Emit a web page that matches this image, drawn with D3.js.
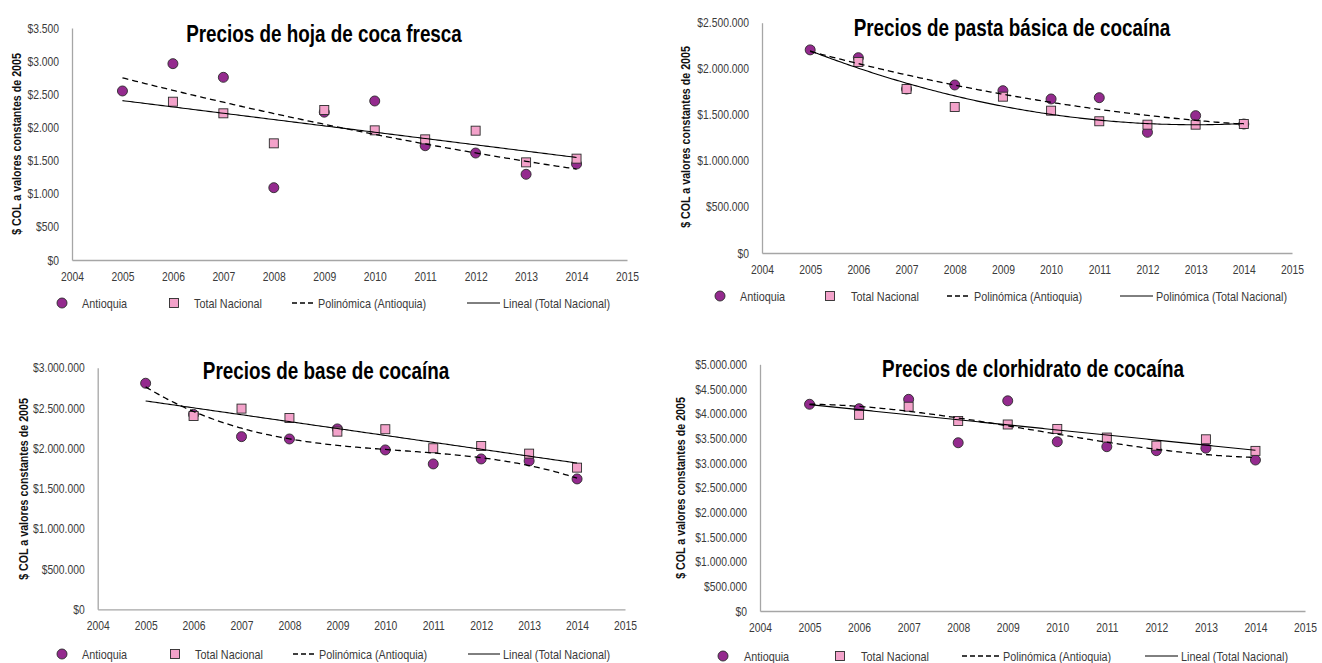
<!DOCTYPE html>
<html><head><meta charset="utf-8">
<script src="https://cdn.jsdelivr.net/npm/d3@7"></script>
<style>body{margin:0;background:#fff}svg{display:block}</style>
</head><body>
<svg id="c" width="1322" height="663"></svg>
<script>
// ---------- DATA ----------
const years = [2005, 2006, 2007, 2008, 2009, 2010, 2011, 2012, 2013, 2014];
const xTickYears = [2004, 2005, 2006, 2007, 2008, 2009, 2010, 2011, 2012, 2013, 2014, 2015];

const hojaAntioquia = [2550, 2962, 2756, 1091, 2230, 2399, 1724, 1614, 1293, 1448];
const hojaNacional  = [null, 2388, 2213, 1760, 2263, 1956, 1820, 1951, 1473, 1529];

const pastaAntioquia = [2205000, 2120000, 1780000, 1824000, 1762000, 1672000, 1686000, 1310000, 1491000, 1400000];
const pastaNacional  = [null, 2074000, 1781000, 1585000, 1697000, 1545000, 1430000, 1393000, 1393000, 1400000];

const baseAntioquia = [2807000, 2420000, 2144000, 2115000, 2240000, 1979000, 1805000, 1867000, 1842000, 1619000];
const baseNacional  = [null, 2400000, 2492000, 2376000, 2206000, 2236000, 2000000, 2028000, 1933000, 1759000];

const clorAntioquia = [4190000, 4100000, 4290000, 3410000, 4260000, 3430000, 3330000, 3250000, 3300000, 3060000];
const clorNacional  = [null, 3976000, 4140000, 3850000, 3780000, 3690000, 3515000, 3350000, 3480000, 3245000];

const hojaTicks  = [0, 500, 1000, 1500, 2000, 2500, 3000, 3500];
const pastaTicks = [0, 500000, 1000000, 1500000, 2000000, 2500000];
const baseTicks  = [0, 500000, 1000000, 1500000, 2000000, 2500000, 3000000];
const clorTicks  = [0, 500000, 1000000, 1500000, 2000000, 2500000, 3000000, 3500000, 4000000, 4500000, 5000000];

const titles = ["Precios de hoja de coca fresca", "Precios de pasta básica de cocaína",
                "Precios de base de cocaína", "Precios de clorhidrato de cocaína"];
const yAxisTitle = "$ COL a valores constantes de 2005";
const legendAnt = "Antioquia", legendNac = "Total Nacional", legendPolyAnt = "Polinómica (Antioquia)";
const nacTrendLabels = ["Lineal (Total Nacional)", "Polinómica (Total Nacional)", "Lineal (Total Nacional)", "Lineal (Total Nacional)"];
const antTrendDegree = [2, 2, 3, 3];
const nacTrendDegree = [1, 2, 1, 1];
const trendRange = [2005, 2014];

// ---------- LAYOUT ----------
const panels = [
  {ant: hojaAntioquia, nac: hojaNacional, ticks: hojaTicks,
   box: {l: 72, r: 627, t: 28, b: 260}, titleX: 324, titleY: 42, ytX: 16, ytY: 144,
   leg: {y: 303, c: 62, ct: 82, s: 174, st: 194, d1: 292, d2: 316, dt: 318, l1: 467, l2: 500, lt: 503}},
  {ant: pastaAntioquia, nac: pastaNacional, ticks: pastaTicks,
   box: {l: 762, r: 1292, t: 22.7, b: 253}, titleX: 1012, titleY: 36, ytX: 685, ytY: 137,
   leg: {y: 296, c: 720, ct: 740, s: 830, st: 851, d1: 947, d2: 971, dt: 974, l1: 1120, l2: 1153, lt: 1156}},
  {ant: baseAntioquia, nac: baseNacional, ticks: baseTicks,
   box: {l: 97.7, r: 625, t: 367.7, b: 609.3}, titleX: 326, titleY: 379, ytX: 23, ytY: 489,
   leg: {y: 654, c: 62, ct: 82, s: 175, st: 195, d1: 293, d2: 317, dt: 319, l1: 468, l2: 500, lt: 503}},
  {ant: clorAntioquia, nac: clorNacional, ticks: clorTicks,
   box: {l: 760, r: 1305, t: 364.3, b: 611}, titleX: 1033, titleY: 377, ytX: 680, ytY: 488,
   leg: {y: 656, c: 723, ct: 744, s: 840, st: 861, d1: 962, d2: 1000, dt: 1003, l1: 1145, l2: 1178, lt: 1181}}
];

const FONT = "'Liberation Sans Narrow', 'Arial Narrow', 'Liberation Sans', Arial, sans-serif";
const PURPLE = "#942a8e", PINK = "#f3a2ca", STROKE = "#2b2b2b", AXIS = "#a6a6a6", TXT = "#3a3a3a";

const locale = d3.formatLocale({decimal: ",", thousands: ".", grouping: [3], currency: ["$", ""]});
const fmt = locale.format("$,");

function polyfit(xs, ys, deg) {
  const pts = xs.map((x, i) => [x - 2009.5, ys[i]]).filter(p => p[1] != null);
  const n = deg + 1;
  const A = Array.from({length: n}, () => new Array(n + 1).fill(0));
  pts.forEach(([x, y]) => {
    for (let i = 0; i < n; i++) {
      for (let j = 0; j < n; j++) A[i][j] += Math.pow(x, i + j);
      A[i][n] += y * Math.pow(x, i);
    }
  });
  for (let i = 0; i < n; i++) {
    let p = i;
    for (let k = i + 1; k < n; k++) if (Math.abs(A[k][i]) > Math.abs(A[p][i])) p = k;
    [A[i], A[p]] = [A[p], A[i]];
    for (let k = i + 1; k < n; k++) {
      const f = A[k][i] / A[i][i];
      for (let j = i; j <= n; j++) A[k][j] -= f * A[i][j];
    }
  }
  const c = new Array(n).fill(0);
  for (let i = n - 1; i >= 0; i--) {
    let s = A[i][n];
    for (let j = i + 1; j < n; j++) s -= A[i][j] * c[j];
    c[i] = s / A[i][i];
  }
  return x => c.reduce((acc, ci, i) => acc + ci * Math.pow(x - 2009.5, i), 0);
}

const svg = d3.select("#c");

panels.forEach((p, pi) => {
  const g = svg.append("g");
  const x = d3.scaleLinear().domain([2004, 2015]).range([p.box.l, p.box.r]);
  const y = d3.scaleLinear().domain([0, d3.max(p.ticks)]).range([p.box.b, p.box.t]);

  const ya = g.append("g").attr("transform", `translate(${p.box.l},0)`)
    .call(d3.axisLeft(y).tickValues(p.ticks).tickSize(0).tickPadding(13).tickFormat(fmt));
  const xa = g.append("g").attr("transform", `translate(0,${p.box.b})`)
    .call(d3.axisBottom(x).tickValues(xTickYears).tickSize(0).tickPadding(12).tickFormat(d3.format("d")));
  [ya, xa].forEach(a => {
    a.select(".domain").attr("stroke", AXIS).attr("stroke-width", 1.3);
    a.selectAll("text").attr("font-family", FONT).attr("font-size", 12.6).attr("fill", TXT);
  });

  g.selectAll(".ant").data(years.map((yr, i) => [yr, p.ant[i]]).filter(d => d[1] != null))
    .enter().append("circle").attr("cx", d => x(d[0])).attr("cy", d => y(d[1])).attr("r", 5)
    .attr("fill", PURPLE).attr("stroke", STROKE).attr("stroke-width", 0.9);
  g.selectAll(".nac").data(years.map((yr, i) => [yr, p.nac[i]]).filter(d => d[1] != null))
    .enter().append("rect").attr("x", d => x(d[0]) - 4.5).attr("y", d => y(d[1]) - 4.5)
    .attr("width", 9).attr("height", 9)
    .attr("fill", PINK).attr("stroke", STROKE).attr("stroke-width", 0.9);

  const samples = d3.range(trendRange[0], trendRange[1] + 0.001, 0.05);
  const fa = polyfit(years, p.ant, antTrendDegree[pi]);
  const fn = polyfit(years, p.nac, nacTrendDegree[pi]);
  const line = f => d3.line().x(t => x(t)).y(t => y(f(t)))(samples);
  g.append("path").attr("d", line(fn)).attr("fill", "none").attr("stroke", "#000").attr("stroke-width", 1.1);
  g.append("path").attr("d", line(fa)).attr("fill", "none").attr("stroke", "#000").attr("stroke-width", 1.3)
    .attr("stroke-dasharray", "6,4");

  g.append("text").attr("x", p.titleX).attr("y", p.titleY).attr("text-anchor", "middle")
    .attr("font-family", FONT).attr("font-weight", "bold").attr("font-size", 23).attr("fill", "#000")
    .text(titles[pi]);
  g.append("text").attr("transform", `translate(${p.ytX},${p.ytY}) rotate(-90)`)
    .attr("text-anchor", "middle").attr("dy", "0.35em")
    .attr("font-family", FONT).attr("font-weight", "bold").attr("font-size", 13).attr("fill", "#111")
    .text(yAxisTitle);

  const L = p.leg;
  g.append("circle").attr("cx", L.c).attr("cy", L.y).attr("r", 5).attr("fill", PURPLE)
    .attr("stroke", STROKE).attr("stroke-width", 0.9);
  g.append("rect").attr("x", L.s - 4.5).attr("y", L.y - 4.5).attr("width", 9).attr("height", 9)
    .attr("fill", PINK).attr("stroke", STROKE).attr("stroke-width", 0.9);
  g.append("line").attr("x1", L.d1).attr("x2", L.d2).attr("y1", L.y).attr("y2", L.y)
    .attr("stroke", "#000").attr("stroke-width", 1.3).attr("stroke-dasharray", "5,3");
  g.append("line").attr("x1", L.l1).attr("x2", L.l2).attr("y1", L.y).attr("y2", L.y)
    .attr("stroke", "#000").attr("stroke-width", 1);
  [[L.ct, legendAnt], [L.st, legendNac], [L.dt, legendPolyAnt], [L.lt, nacTrendLabels[pi]]].forEach(([tx, t]) => {
    g.append("text").attr("x", tx).attr("y", L.y).attr("dy", "0.35em")
      .attr("font-family", FONT).attr("font-size", 13.2).attr("fill", TXT).text(t);
  });
});

// narrow-font fallback: if no narrow face is installed, compress glyphs horizontally
(function () {
  const a = svg.append("text").attr("font-family", "'Liberation Sans Narrow', 'Arial Narrow', 'Liberation Sans'").attr("font-size", 20).text("Precios de coca");
  const b = svg.append("text").attr("font-family", "'Liberation Sans'").attr("font-size", 20).text("Precios de coca");
  const ratio = a.node().getComputedTextLength() / b.node().getComputedTextLength();
  a.remove(); b.remove();
  if (ratio > 0.95) {
    svg.selectAll("text").each(function () {
      const w = this.getComputedTextLength();
      d3.select(this).attr("textLength", w * 0.82).attr("lengthAdjust", "spacingAndGlyphs");
    });
  }
})();
</script>
</body></html>
